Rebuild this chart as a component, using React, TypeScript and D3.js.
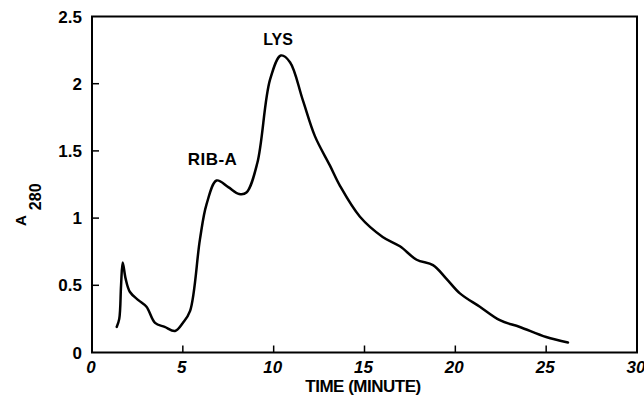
import React from "react";
import * as d3 from "d3";

const timeMin = [1.36, 1.5, 1.6, 1.69, 1.85, 2.09, 2.55, 3.0, 3.47, 4.0, 4.57, 5.0, 5.4, 5.94, 6.3, 6.86, 7.5, 8.1, 8.5, 9.1, 9.8, 10.4, 10.9, 11.6, 12.27, 13.1, 13.65, 14.75, 16.0, 16.95, 17.87, 18.77, 19.5, 20.25, 21.35, 22.45, 23.55, 25.0, 26.2];
const a280 = [0.19, 0.25, 0.5, 0.67, 0.55, 0.45, 0.39, 0.34, 0.22, 0.19, 0.16, 0.22, 0.31, 0.84, 1.1, 1.28, 1.23, 1.18, 1.19, 1.41, 2.03, 2.21, 2.16, 1.88, 1.61, 1.39, 1.24, 1.01, 0.86, 0.79, 0.69, 0.65, 0.55, 0.44, 0.34, 0.24, 0.19, 0.115, 0.075];
const xTicks = [0, 5, 10, 15, 20, 25, 30];
const yTicks = [0, 0.5, 1, 1.5, 2, 2.5];
const peakLabels = [
  { text: "LYS", t: 10.35, v: 2.21 },
  { text: "RIB-A", t: 6.6, v: 1.28 },
];

export default function App() {
  const W = 644, H = 397;
  const x = d3.scaleLinear().domain([0, 30]).range([92, 637]);
  const y = d3.scaleLinear().domain([0, 2.5]).range([352.5, 16.5]);
  const pts = timeMin.map((t, i) => [t, a280[i]] as [number, number]);
  const line = d3.line<[number, number]>().x(d => x(d[0])).y(d => y(d[1])).curve(d3.curveCatmullRom.alpha(0.5));
  const font = "'Liberation Sans', Arial, sans-serif";
  return (
    <div style={{ position: "fixed", left: 0, top: 0, width: W, height: H, background: "#fff" }}>
      <svg width={W} height={H} style={{ display: "block" }}>
        <g fill="none" stroke="#000" strokeWidth={2}>
          <path d={`M${x(0) - 1},${y(2.5)}H${x(30) + 1}`} />
          <path d={`M${x(0) - 1},${y(0)}H${x(30) + 1}`} />
          <path d={`M${x(0)},${y(2.5)}V${y(0)}`} />
          <path d={`M${x(30)},${y(2.5)}V${y(0)}`} />
        </g>
        <g stroke="#000" strokeWidth={1.5}>
          {xTicks.slice(1, -1).map(t => (
            <path key={"xt" + t} d={`M${x(t)},${y(0)}V${y(0) - 7}`} />
          ))}
          {yTicks.slice(1, -1).map(v => (
            <path key={"yt" + v} d={`M${x(0)},${y(v)}H${x(0) + 7}`} />
          ))}
        </g>
        {xTicks.map(t => (
          <text key={"xl" + t} x={x(t) - 1} y={373} textAnchor="middle" fontFamily={font} fontWeight="bold" fontStyle="italic" fontSize={17}>{t}</text>
        ))}
        {yTicks.map(v => (
          <text key={"yl" + v} x={82} y={y(v) + 6} textAnchor="end" fontFamily={font} fontWeight="bold" fontSize={17}>{v}</text>
        ))}
        <text x={363} y={392} textAnchor="middle" fontFamily={font} fontWeight="bold" fontSize={17} letterSpacing={-0.5}>TIME (MINUTE)</text>
        <text transform="translate(26, 226) rotate(-90)" textAnchor="start" fontFamily={font} fontWeight="bold" fontSize={15}>
          A<tspan dx={5} dy={15} fontSize={16}>280</tspan>
        </text>
        <path d={line(pts) || ""} fill="none" stroke="#000" strokeWidth={2.5} strokeLinejoin="round" strokeLinecap="round" />
        <text x={278} y={45} textAnchor="middle" fontFamily={font} fontWeight="bold" fontSize={16}>{peakLabels[0].text}</text>
        <text x={212.5} y={165} textAnchor="middle" fontFamily={font} fontWeight="bold" fontSize={17} letterSpacing={0.5}>{peakLabels[1].text}</text>
      </svg>
    </div>
  );
}
